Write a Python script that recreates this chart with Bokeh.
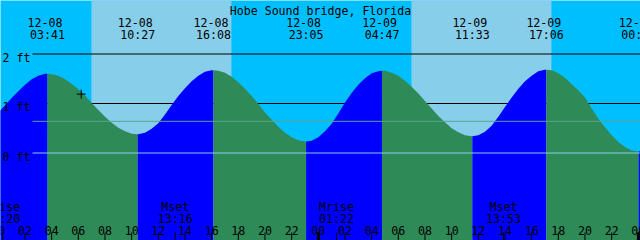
from bokeh.plotting import figure
from bokeh.models import Range1d
from bokeh.core.properties import value
from bokeh.embed import file_html
from bokeh.resources import INLINE

# ---------------- data ----------------
title_text = "Hobe Sound bridge, Florida"
day_offsets = {"12-08": 0, "12-09": 24, "12-10": 48}

# tide extremes (visible)
ext_dates = ["12-08", "12-08", "12-08", "12-08", "12-09", "12-09", "12-09", "12-10"]
ext_times = ["03:41", "10:27", "16:08", "23:05", "04:47", "11:33", "17:06", "00:02"]
ext_kinds = ["High", "Low", "High", "Low", "High", "Low", "High", "Low"]
ext_heights = [1.60, 0.38, 1.67, 0.23, 1.66, 0.34, 1.68, 0.03]

# tide curve read every half hour from 12-08 00:00 (ft)
curve_hours = [i * 0.5 for i in range(98)]
curve_heights = [
    0.82, 0.96, 1.11, 1.25, 1.38, 1.49, 1.56, 1.60, 1.59, 1.56,
    1.49, 1.40, 1.29, 1.16, 1.01, 0.87, 0.73, 0.61, 0.51, 0.44,
    0.39, 0.38, 0.41, 0.49, 0.60, 0.78, 0.97, 1.15, 1.31, 1.45,
    1.56, 1.64, 1.67, 1.66, 1.62, 1.54, 1.43, 1.30, 1.15, 0.99,
    0.82, 0.67, 0.53, 0.41, 0.32, 0.26, 0.23, 0.25, 0.32, 0.44,
    0.59, 0.80, 1.02, 1.21, 1.38, 1.51, 1.61, 1.65, 1.66, 1.62,
    1.56, 1.46, 1.34, 1.20, 1.05, 0.90, 0.75, 0.62, 0.50, 0.42,
    0.36, 0.34, 0.36, 0.43, 0.55, 0.73, 0.93, 1.12, 1.30, 1.45,
    1.56, 1.65, 1.68, 1.67, 1.61, 1.52, 1.39, 1.27, 1.12, 0.90,
    0.69, 0.52, 0.36, 0.22, 0.12, 0.05, 0.03, 0.06,
]

# sun
sunrise = ["12-08 06:59", "12-09 06:59"]
sunset = ["12-08 17:29", "12-09 17:29"]

# moon
moon_events = ["Mrise", "Mset", "Mrise", "Mset"]
moon_dates = ["12-08", "12-08", "12-09", "12-09"]
moon_times = ["00:20", "13:16", "01:22", "13:53"]

# current time marker
now_date, now_time, now_height = "12-08", "06:13", 1.19

# levels
level_ft = [2, 1, 0]
level_labels = ["2 ft", "1 ft", "0 ft"]
msl_ft = 0.64

# hour ticks
tick_hours = list(range(0, 49, 2))
tick_labels = ["00", "02", "04", "06", "08", "10", "12", "14", "16", "18", "20", "22",
               "00", "02", "04", "06", "08", "10", "12", "14", "16", "18", "20", "22", "00"]
midnight_hours = [0, 24, 48]

# ---------------- helpers ----------------
def to_hours(d, t):
    hh, mm = t.split(":")
    return day_offsets[d] + int(hh) + int(mm) / 60.0

W, H = 640, 240
PX_PER_H = W / 48.0
X0 = 0.163
ZERO_PY = 152.5
PX_PER_FT = 49.5

def py2y(py):
    return (ZERO_PY - py) / PX_PER_FT

def px2x(px):
    return X0 + px / PX_PER_H

ext_hours = [to_hours(d, t) for d, t in zip(ext_dates, ext_times)]
sr_hours = [to_hours(*s.split(" ")) for s in sunrise]
ss_hours = [to_hours(*s.split(" ")) for s in sunset]
moon_hours = [to_hours(d, t) for d, t in zip(moon_dates, moon_times)]
now_hour = to_hours(now_date, now_time)

FONT = value("DejaVu Sans Mono")
FS = "11.6px"

p = figure(width=W, height=H, x_range=Range1d(X0, X0 + 48),
           y_range=Range1d(py2y(H), py2y(0)),
           output_backend="svg", toolbar_location=None, min_border=0,
           x_axis_type=None, y_axis_type=None,
           background_fill_color="#00BFFF", border_fill_color="#00BFFF",
           outline_line_color=None)

ytop, ybot = py2y(-2), py2y(H + 2)

# daylight
p.quad(left=sr_hours, right=ss_hours, bottom=ybot, top=ytop,
       fill_color="#87CEEB", line_color=None)

# black level lines (behind water)
p.segment(x0=px2x(32), x1=px2x(W + 2), y0=level_ft[:2], y1=level_ft[:2],
          line_color="black", line_width=1)

# water
pts = dict(zip(curve_hours, curve_heights))
for h, v in zip(ext_hours, ext_heights):
    pts[h] = v
all_t = sorted(pts)
bounds = [curve_hours[0]] + ext_hours + [curve_hours[-1]]
for i in range(len(bounds) - 1):
    a, b = bounds[i], bounds[i + 1]
    if i < len(ext_kinds):
        rising = ext_kinds[i] == "High"
    else:
        rising = ext_kinds[-1] == "Low"
    ts = [t for t in all_t if a - 1e-9 <= t <= b + 1e-9]
    hs = [pts[t] for t in ts]
    p.varea(x=ts, y1=[ybot] * len(ts), y2=hs,
            fill_color="#0000FF" if rising else "#2E8B57")

# msl and datum lines
p.segment(x0=px2x(32), x1=px2x(W + 2), y0=msl_ft, y1=msl_ft,
          line_color="#5AA58C", line_width=1)
p.segment(x0=px2x(32), x1=px2x(W + 2), y0=level_ft[2], y1=level_ft[2],
          line_color="#87CEEB", line_width=1)

# level labels
p.text(x=[px2x(2)] * 3, y=[py2y(ZERO_PY - l * PX_PER_FT + 3.5) for l in level_ft],
       text=level_labels, text_font=FONT, text_font_size=FS,
       text_align="left", text_baseline="alphabetic", text_color="black")

# title
p.text(x=[px2x(320)], y=[py2y(10)], text=[title_text], text_font=FONT,
       text_font_size=FS, text_align="center", text_baseline="alphabetic",
       text_color="black")

# extreme labels
p.text(x=ext_hours, y=py2y(22), text=ext_dates, text_font=FONT, text_font_size=FS,
       text_align="center", text_baseline="alphabetic", text_color="black",
       x_offset=-2.5)
p.text(x=ext_hours, y=py2y(34), text=ext_times, text_font=FONT, text_font_size=FS,
       text_align="center", text_baseline="alphabetic", text_color="black")

# moon labels
p.text(x=moon_hours, y=py2y(206), text=moon_events, text_font=FONT, text_font_size=FS,
       text_align="center", text_baseline="alphabetic", text_color="black")
p.text(x=moon_hours, y=py2y(218), text=moon_times, text_font=FONT, text_font_size=FS,
       text_align="center", text_baseline="alphabetic", text_color="black")

# hour tick labels
p.text(x=tick_hours, y=py2y(230), text=tick_labels, text_font=FONT, text_font_size=FS,
       text_align="center", text_baseline="alphabetic", text_color="black")

# ticks
p.segment(x0=tick_hours, x1=tick_hours, y0=py2y(232), y1=py2y(H + 2),
          line_color="black", line_width=1)
p.segment(x0=moon_hours, x1=moon_hours, y0=py2y(232), y1=py2y(H + 2),
          line_color="black", line_width=1)
p.segment(x0=midnight_hours, x1=midnight_hours, y0=py2y(232), y1=py2y(H + 2),
          line_color="black", line_width=3)

# now marker
p.scatter(x=[now_hour], y=[now_height], marker="cross", size=9,
          line_color="black", line_width=1)

open("out.html", "w").write(file_html(p, INLINE))
